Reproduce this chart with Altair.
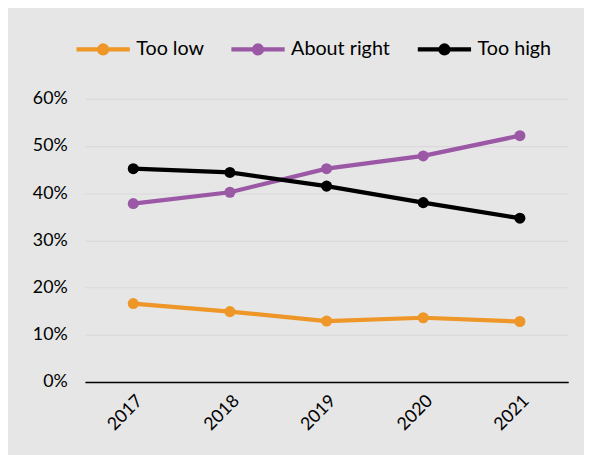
import altair as alt
import pandas as pd

years = ["2017", "2018", "2019", "2020", "2021"]
series = ["Too low", "About right", "Too high"]
too_low = [0.166, 0.149, 0.129, 0.136, 0.128]
about_right = [0.378, 0.402, 0.452, 0.479, 0.522]
too_high = [0.452, 0.444, 0.415, 0.380, 0.347]
colors = ["#EE9627", "#9A58A5", "#000000"]
y_ticks = [0, 0.1, 0.2, 0.3, 0.4, 0.5, 0.6]

rows = []
for name, vals in zip(series, [too_low, about_right, too_high]):
    for yr, v in zip(years, vals):
        rows.append({"Year": yr, "Series": name, "Value": v})
df = pd.DataFrame(rows)

FONT = "Lato"
sym_path = "M-1,0H1M-0.15,0A0.15,0.15,0,1,1,0.15,0A0.15,0.15,0,1,1,-0.15,0Z"

color = alt.Color(
    "Series:N",
    sort=series,
    scale=alt.Scale(domain=series, range=colors),
    legend=alt.Legend(
        title=None,
        orient="none",
        direction="horizontal",
        legendX=-11,
        legendY=-80,
        symbolType=sym_path,
        symbolSize=2916,
        symbolStrokeWidth=4.3,
        labelFont=FONT,
        labelFontSize=20,
        labelColor="#000000",
        labelOffset=4,
        columnPadding=18,
    ),
)

chart = (
    alt.Chart(df)
    .mark_line(strokeWidth=4.3, point=alt.OverlayMarkDef(filled=True, size=125, opacity=1))
    .encode(
        x=alt.X(
            "Year:N",
            sort=years,
            scale=alt.Scale(type="point", padding=0.5),
            axis=alt.Axis(
                title=None,
                labelAngle=-45,
                labelFont=FONT,
                labelFontSize=18,
                labelColor="#000000",
                labelPadding=10,
                ticks=False,
                domainColor="#000000",
                domainWidth=1.5,
                grid=False,
            ),
        ),
        y=alt.Y(
            "Value:Q",
            scale=alt.Scale(domain=[0, 0.6], nice=False),
            axis=alt.Axis(
                title=None,
                values=y_ticks,
                format=".0%",
                labelFont=FONT,
                labelFontSize=18,
                labelColor="#000000",
                labelPadding=18,
                ticks=False,
                domain=False,
                grid=True,
                gridColor="#D9D9D9",
                gridWidth=1.2,
            ),
        ),
        color=color,
        order=alt.Order("Year:N"),
    )
    .properties(
        width=490,
        height=287,
        padding={"left": 78, "top": 89, "right": 16, "bottom": 71},
        autosize=alt.AutoSizeParams(type="none"),
        background="#E6E6E6",
    )
    .configure_view(stroke=None)
)

chart.save("out.html", embed_options={"renderer": "svg", "actions": False})
